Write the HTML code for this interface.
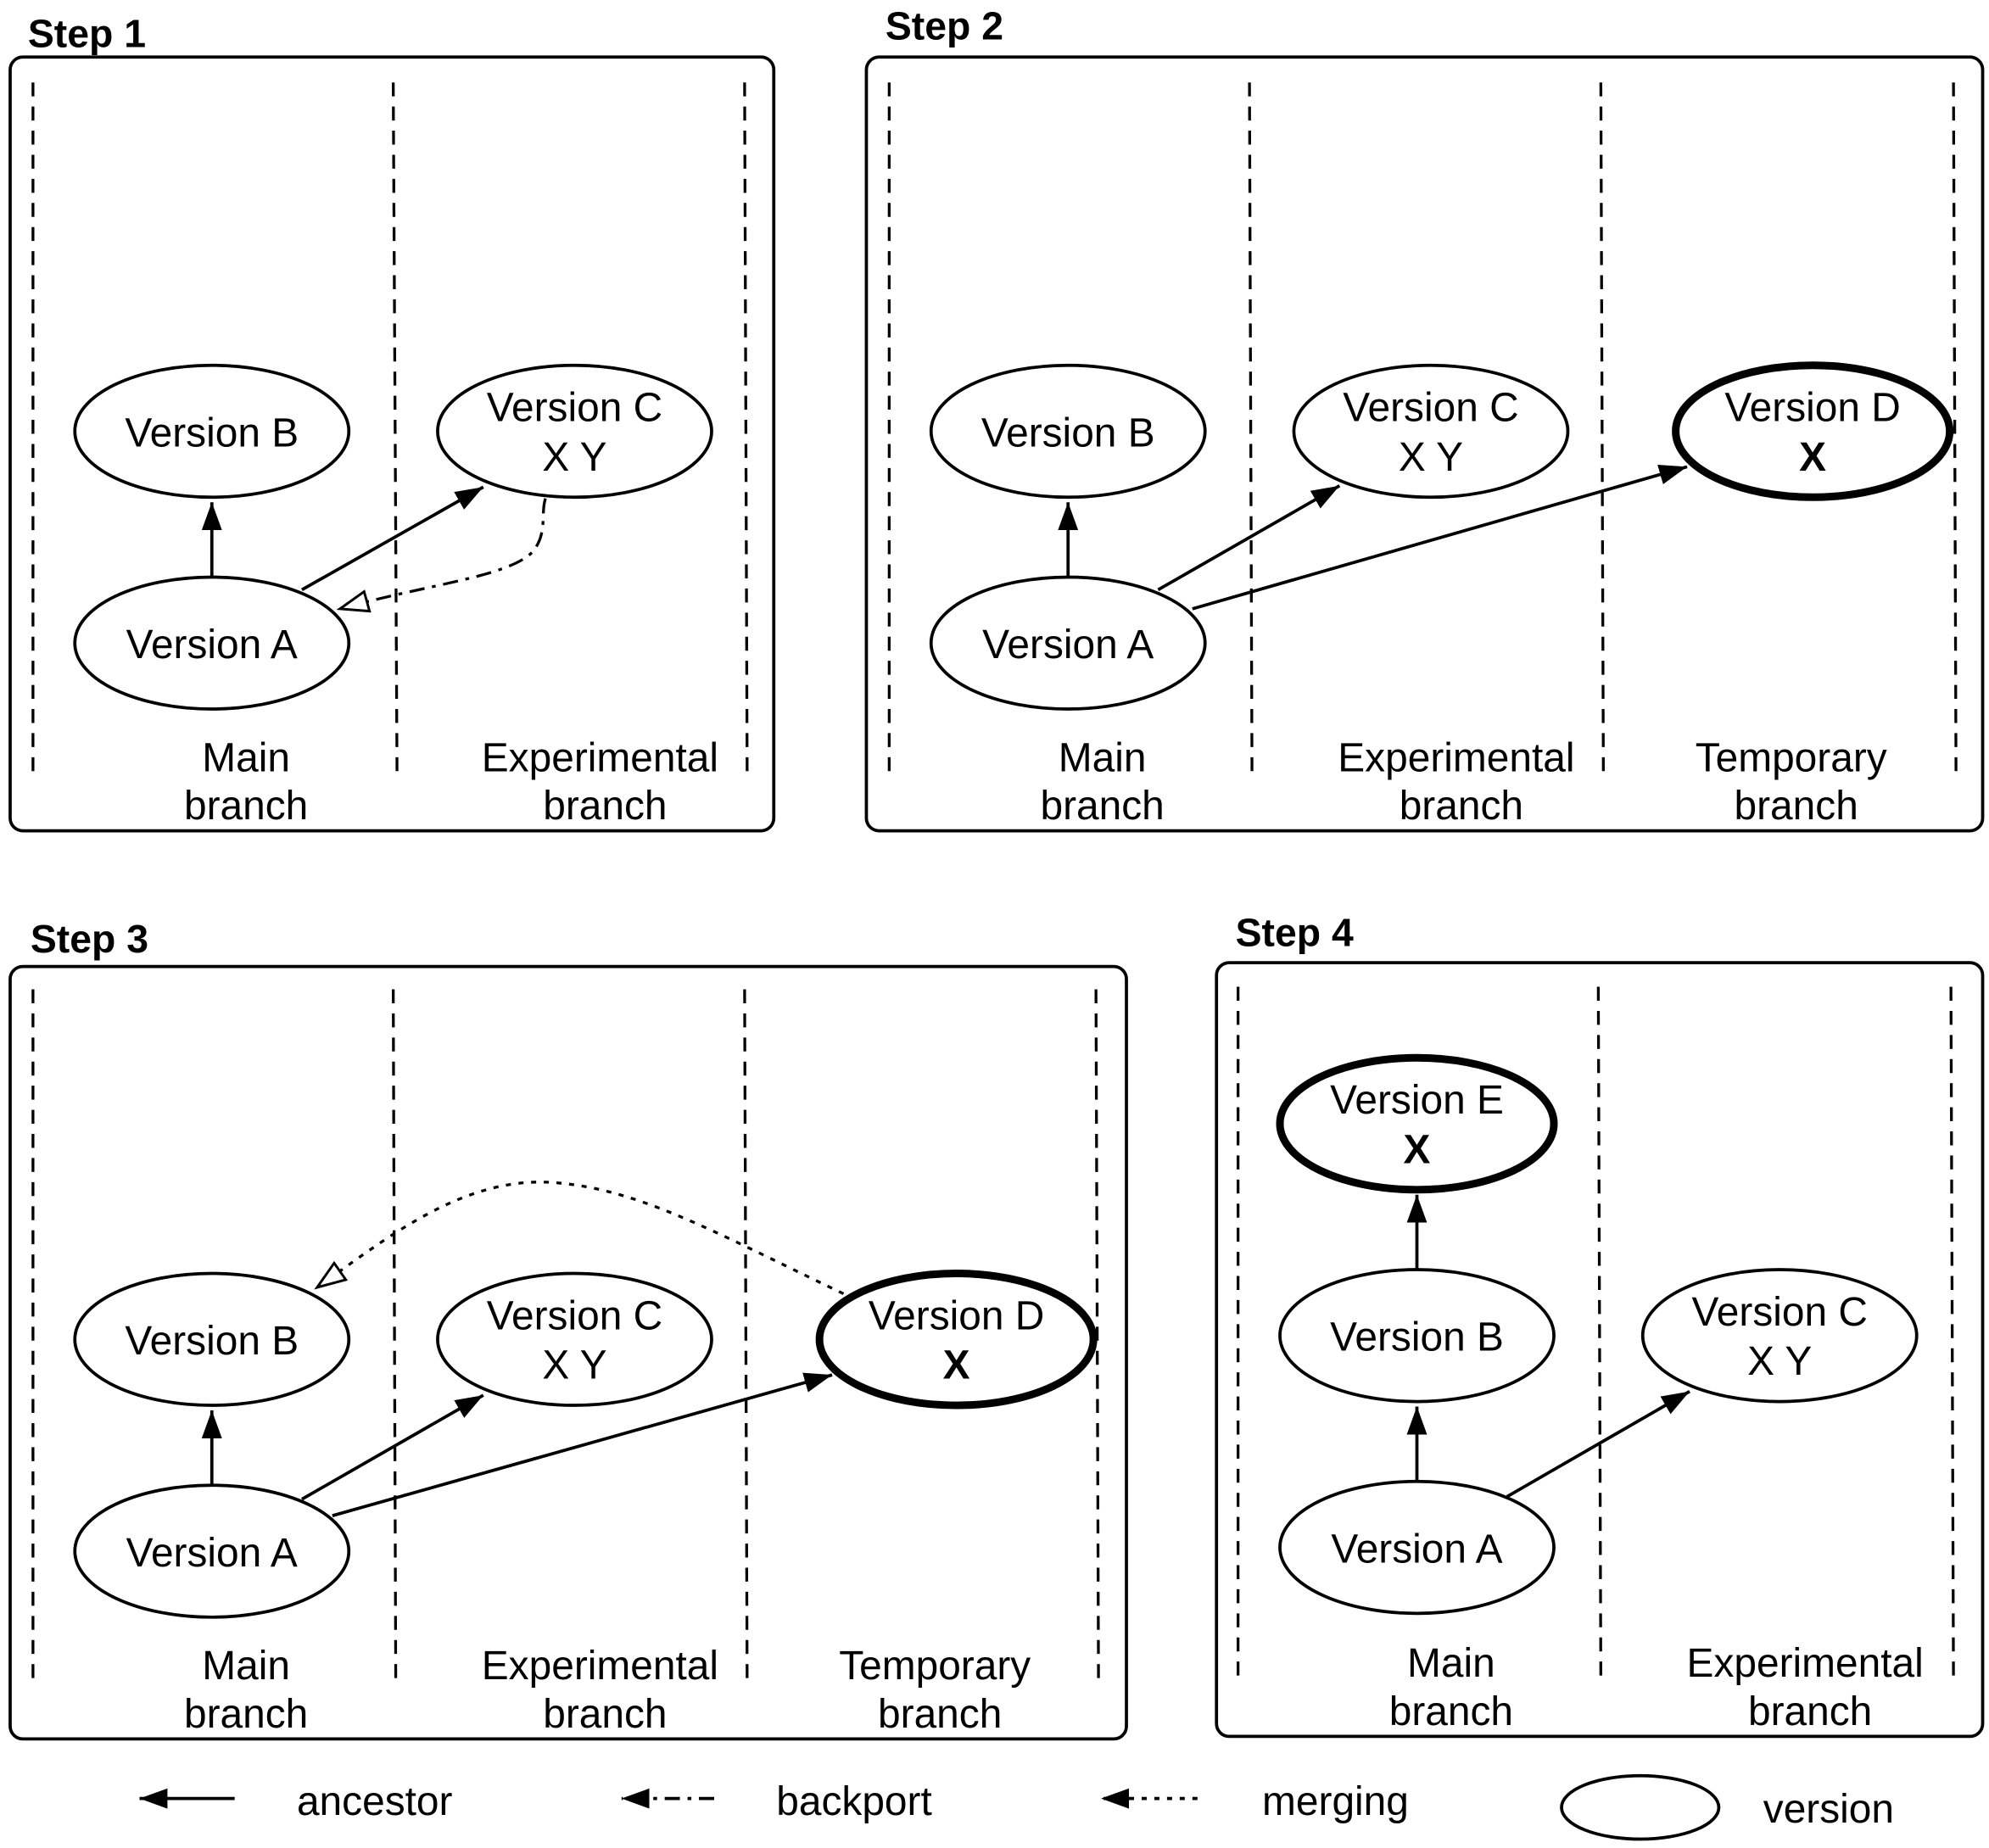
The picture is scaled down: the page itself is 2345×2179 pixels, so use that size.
<!DOCTYPE html>
<html><head><meta charset="utf-8"><style>html,body{margin:0;padding:0;background:#fff}svg{display:block}</style></head><body>
<svg width="2345" height="2179" viewBox="0 0 1568 1457" xmlns="http://www.w3.org/2000/svg" font-family="Liberation Sans, Arial, sans-serif">
<defs>
<marker id="ahb" markerWidth="24" markerHeight="24" refX="22" refY="12" orient="auto" markerUnits="userSpaceOnUse" viewBox="0 0 24 24"><path d="M0,4 L22,12 L0,20 z" fill="#000"/></marker>
<marker id="aho" markerWidth="26" markerHeight="26" refX="23" refY="13" orient="auto" markerUnits="userSpaceOnUse" viewBox="0 0 26 26"><path d="M1,5 L23,13 L1,21 z" fill="#fff" stroke="#000" stroke-width="2"/></marker>
</defs>
<g fill="none" stroke="#000" stroke-width="2.5">
<rect x="8" y="45" width="602" height="610" rx="10"/>
<rect x="683" y="45" width="880" height="610" rx="10"/>
<rect x="8" y="762" width="880" height="609" rx="10"/>
<rect x="959" y="759" width="604" height="610" rx="10"/>
</g>
<g stroke="#000" stroke-width="2.2" stroke-dasharray="11,8">
<line x1="26" y1="65" x2="26" y2="610"/><line x1="310" y1="65" x2="313" y2="610"/><line x1="587" y1="65" x2="589" y2="610"/>
<line x1="701" y1="65" x2="701" y2="610"/><line x1="985" y1="65" x2="987" y2="610"/><line x1="1262" y1="65" x2="1264" y2="610"/><line x1="1540" y1="65" x2="1542" y2="610"/>
<line x1="26" y1="780" x2="26" y2="1328"/><line x1="310" y1="780" x2="312" y2="1328"/><line x1="587" y1="780" x2="589" y2="1328"/><line x1="864" y1="780" x2="866" y2="1328"/>
<line x1="976" y1="778" x2="976" y2="1325"/><line x1="1260" y1="778" x2="1262" y2="1325"/><line x1="1538" y1="778" x2="1540" y2="1325"/>
</g>
<g fill="#fff" stroke="#000" stroke-width="2.5">
<ellipse cx="167" cy="340" rx="108" ry="52"/><ellipse cx="167" cy="507" rx="108" ry="52"/><ellipse cx="453" cy="340" rx="108" ry="52"/>
<ellipse cx="842" cy="340" rx="108" ry="52"/><ellipse cx="842" cy="507" rx="108" ry="52"/><ellipse cx="1128" cy="340" rx="108" ry="52"/>
<ellipse cx="167" cy="1056" rx="108" ry="52"/><ellipse cx="167" cy="1223" rx="108" ry="52"/><ellipse cx="453" cy="1056" rx="108" ry="52"/>
<ellipse cx="1117" cy="1053" rx="108" ry="52"/><ellipse cx="1117" cy="1220" rx="108" ry="52"/><ellipse cx="1403" cy="1053" rx="108" ry="52"/>
<ellipse cx="1293" cy="1425" rx="62" ry="25"/>
</g>
<g fill="#fff" stroke="#000" stroke-width="6">
<ellipse cx="1429" cy="340" rx="108" ry="52"/><ellipse cx="754" cy="1056" rx="108" ry="52"/><ellipse cx="1117" cy="886" rx="108" ry="52"/>
</g>
<g stroke="#000" stroke-width="2.5" fill="none" marker-end="url(#ahb)">
<line x1="167" y1="455" x2="167" y2="396"/><line x1="238" y1="465" x2="381" y2="384"/>
<line x1="842" y1="455" x2="842" y2="396"/><line x1="913" y1="465" x2="1056" y2="383"/><line x1="940" y1="480" x2="1330" y2="368"/>
<line x1="167" y1="1171" x2="167" y2="1112"/><line x1="238" y1="1182" x2="381" y2="1100"/><line x1="262" y1="1195" x2="656" y2="1084"/>
<line x1="1117" y1="1168" x2="1117" y2="1109"/><line x1="1117" y1="1001" x2="1117" y2="942"/><line x1="1188" y1="1180" x2="1332" y2="1097"/>
</g>
<path d="M430,393 C426,405 432,420 420,435 C400,455 340,460 268,480" fill="none" stroke="#000" stroke-width="2.2" stroke-dasharray="12,6,3,6" marker-end="url(#aho)"/>
<path d="M665,1020 C560,970 500,935 430,932 C360,930 300,980 250,1015" fill="none" stroke="#000" stroke-width="2.2" stroke-dasharray="4,6" marker-end="url(#aho)"/>
<g stroke="#000" stroke-width="2.5" fill="none" marker-end="url(#ahb)">
<line x1="185" y1="1418" x2="110" y2="1418"/>
<line x1="563" y1="1418" x2="490" y2="1418" stroke-dasharray="12,6,3,6"/>
<line x1="944" y1="1418" x2="868" y2="1418" stroke-dasharray="4,6"/>
</g>
<g font-size="32" text-anchor="middle" fill="#000">
<text x="167" y="352">Version B</text><text x="167" y="519">Version A</text><text x="453" y="332">Version C</text><text x="453" y="371">X Y</text>
<text x="194" y="608">Main</text><text x="194" y="646">branch</text><text x="473" y="608">Experimental</text><text x="477" y="646">branch</text>
<text x="842" y="352">Version B</text><text x="842" y="519">Version A</text><text x="1128" y="332">Version C</text><text x="1128" y="371">X Y</text>
<text x="1429" y="332">Version D</text><text x="1429" y="371" font-weight="bold">X</text>
<text x="869" y="608">Main</text><text x="869" y="646">branch</text><text x="1148" y="608">Experimental</text><text x="1152" y="646">branch</text>
<text x="1412" y="608">Temporary</text><text x="1416" y="646">branch</text>
<text x="167" y="1068">Version B</text><text x="167" y="1235">Version A</text><text x="453" y="1048">Version C</text><text x="453" y="1087">X Y</text>
<text x="754" y="1048">Version D</text><text x="754" y="1087" font-weight="bold">X</text>
<text x="194" y="1324">Main</text><text x="194" y="1362">branch</text><text x="473" y="1324">Experimental</text><text x="477" y="1362">branch</text>
<text x="737" y="1324">Temporary</text><text x="741" y="1362">branch</text>
<text x="1117" y="878">Version E</text><text x="1117" y="917" font-weight="bold">X</text>
<text x="1117" y="1065">Version B</text><text x="1117" y="1232">Version A</text><text x="1403" y="1045">Version C</text><text x="1403" y="1084">X Y</text>
<text x="1144" y="1322">Main</text><text x="1144" y="1360">branch</text><text x="1423" y="1322">Experimental</text><text x="1427" y="1360">branch</text>
</g>
<g font-size="32" fill="#000">
<text x="234" y="1431">ancestor</text><text x="612" y="1431">backport</text><text x="995" y="1431">merging</text><text x="1390" y="1437">version</text>
</g>
<g font-size="31" font-weight="bold" fill="#000">
<text x="22" y="37">Step 1</text><text x="698" y="31">Step 2</text><text x="24" y="751">Step 3</text><text x="974" y="746">Step 4</text>
</g>
</svg>
</body></html>
